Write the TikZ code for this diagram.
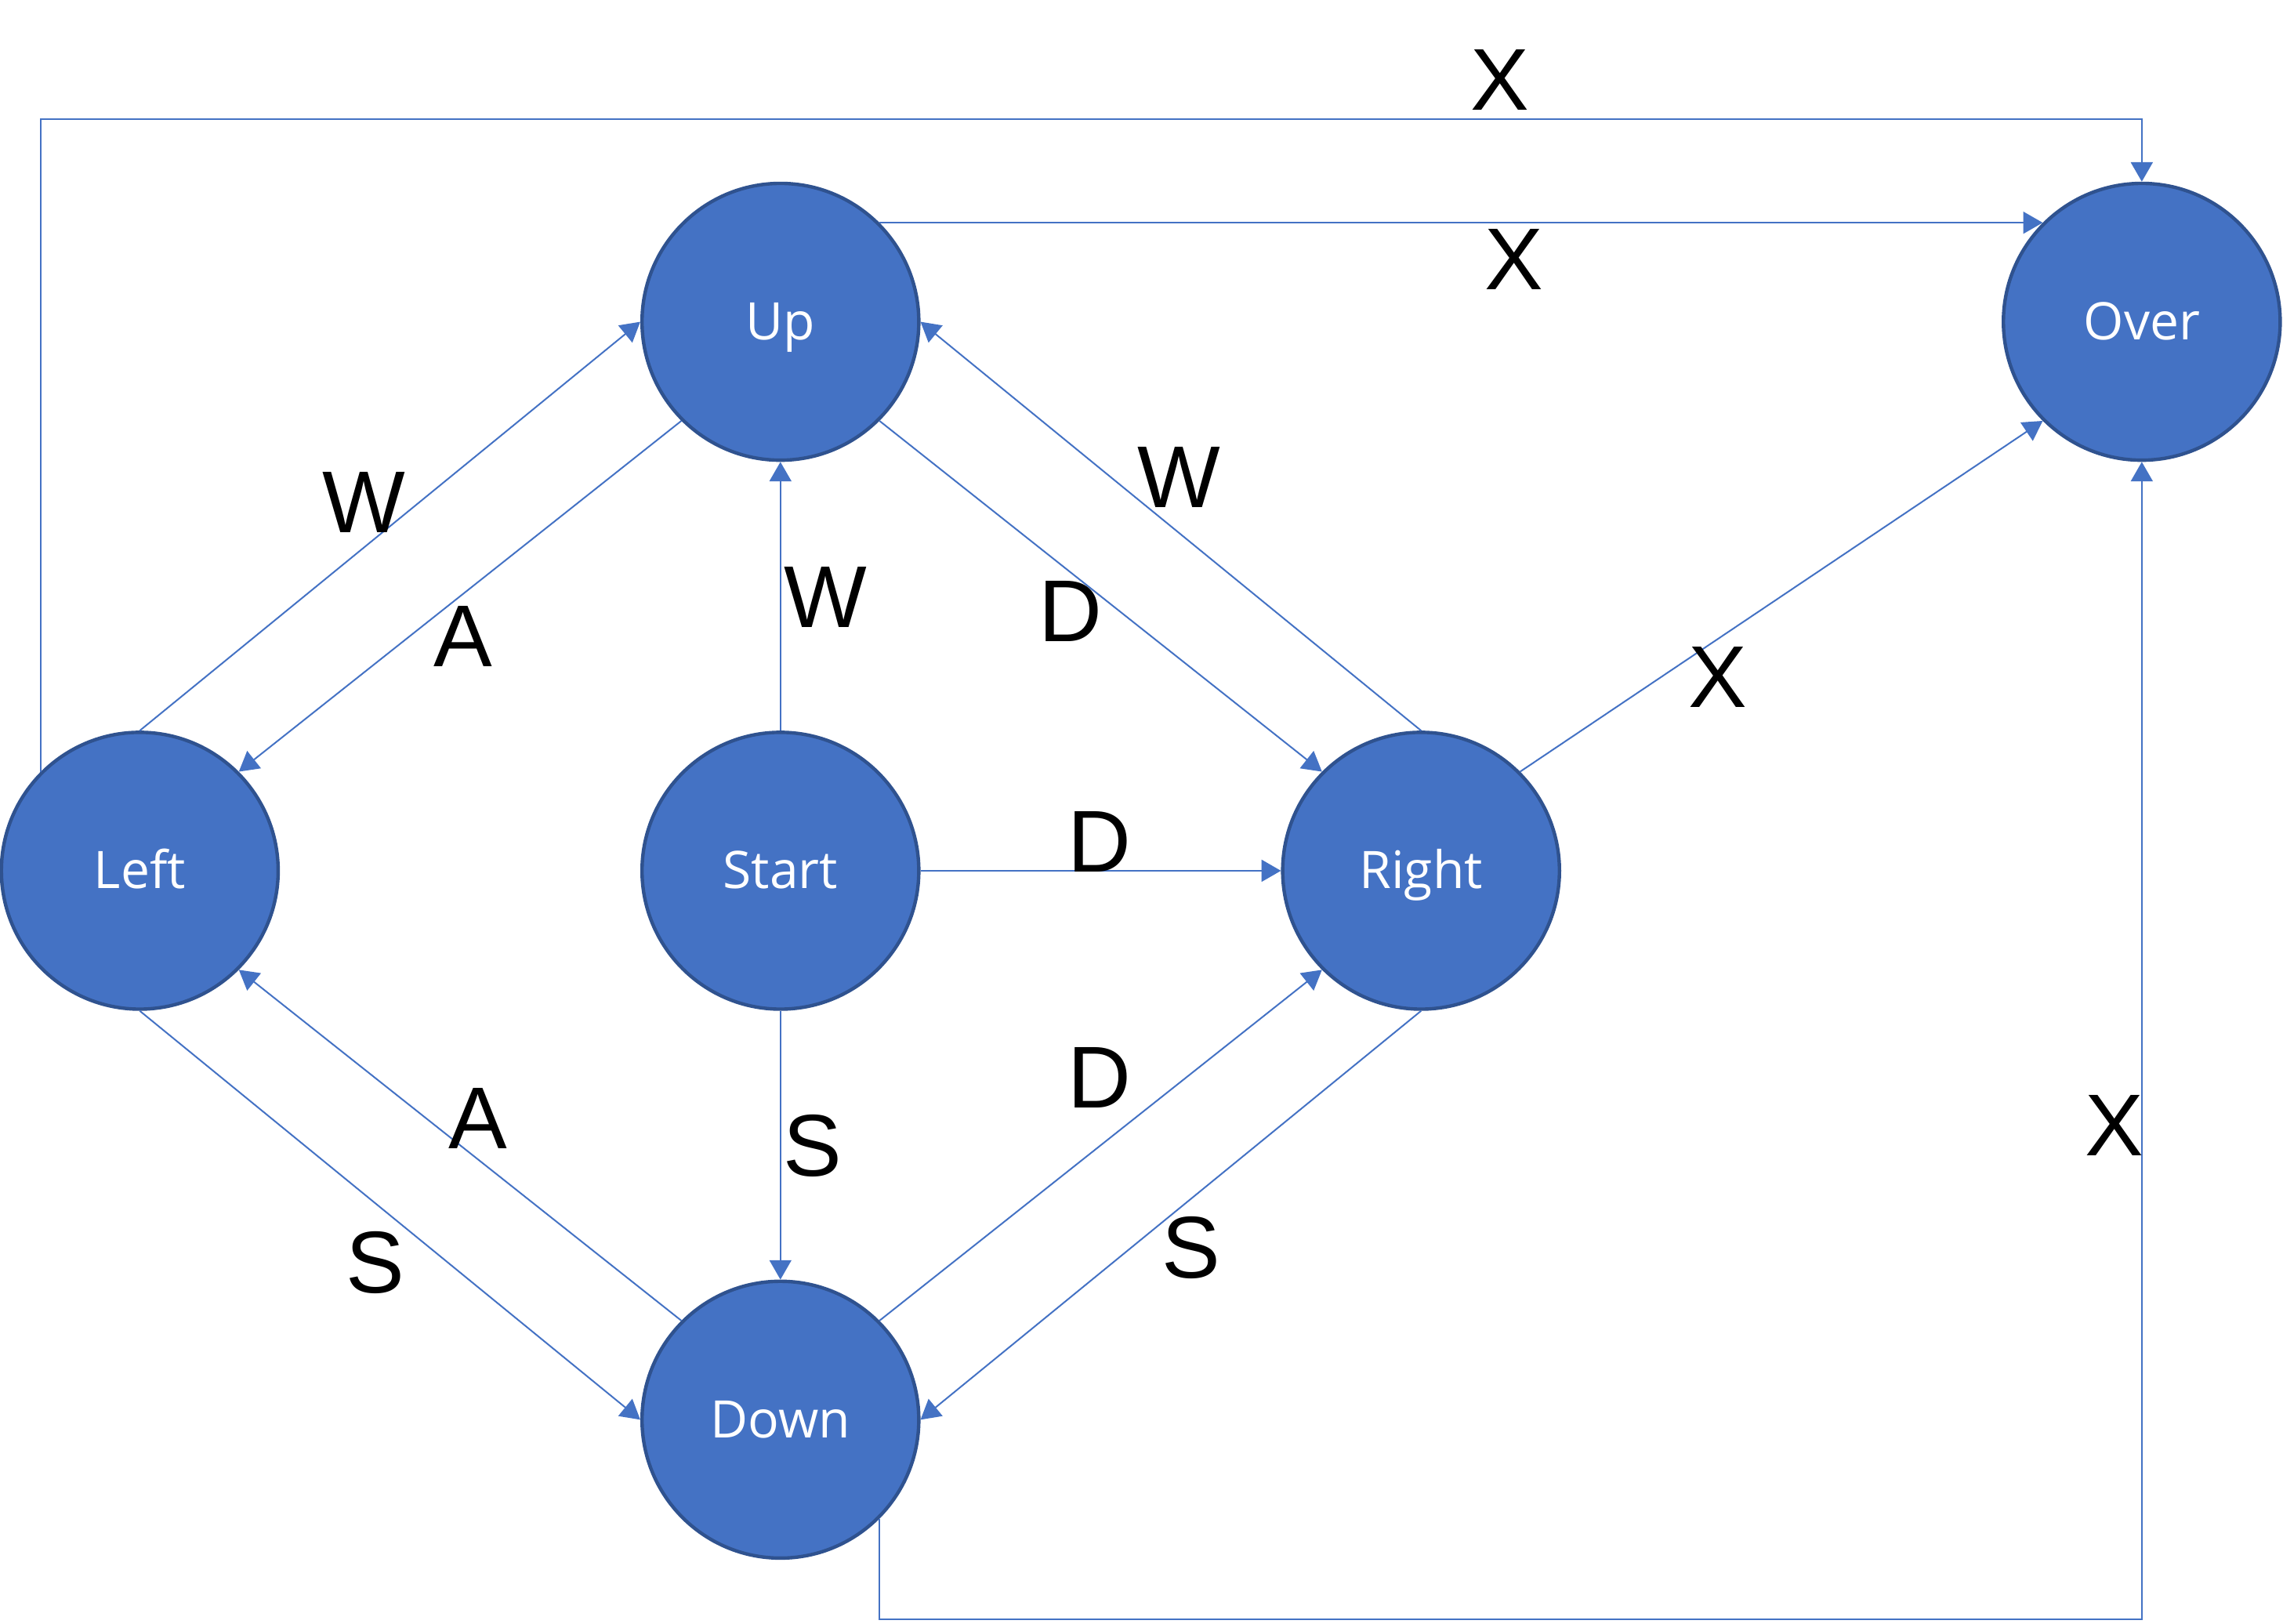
\documentclass[tikz,border=0pt]{standalone}
\usepackage{fontspec}
\setmainfont{Liberation Sans}
\newfontfamily\nodefont{Open Sans}
\usetikzlibrary{arrows.meta}
\definecolor{stfill}{HTML}{4472C4}
\definecolor{stborder}{HTML}{2F528F}
\definecolor{conn}{HTML}{4472C4}
\begin{document}
\begin{tikzpicture}[x=0.4645pt,y=-0.4645pt,
  state/.style={circle,fill=stfill,draw=stborder,line width=1.1pt,minimum size=88.3pt,inner sep=0pt,
    text=white,font=\nodefont\fontsize{16.5}{18}\selectfont,text height=11.4pt,text depth=0pt},
  trans/.style={draw=conn,line width=0.5pt,-{Triangle[length=6.2pt,width=7pt]}},
  lbl/.style={font=\fontsize{28}{30}\selectfont,text=black,inner sep=0pt}]
\useasboundingbox (0,0) rectangle (1568,1115);
\node[state] (Up) at (536,221) {Up};
\node[state] (Over) at (1471,221) {Over};
\node[state] (Left) at (96,598) {Left};
\node[state] (Start) at (536,598) {Start};
\node[state] (Right) at (976,598) {Right};
\node[state] (Down) at (536,975) {Down};
\coordinate (topY) at (0,82);
\coordinate (botY) at (0,1112);
% connectors
\draw[trans] (Left.135) -- (Left.135 |- topY) -| (Over.north);
\draw[trans] (Up.45) -- (Over.135);
\draw[trans] (Left.north) -- (Up.west);
\draw[trans] (Up.-135) -- (Left.45);
\draw[trans] (Start.north) -- (Up.south);
\draw[trans] (Up.-45) -- (Right.135);
\draw[trans] (Right.north) -- (Up.east);
\draw[trans] (Right.45) -- (Over.-135);
\draw[trans] (Start.east) -- (Right.west);
\draw[trans] (Start.south) -- (Down.north);
\draw[trans] (Left.south) -- (Down.west);
\draw[trans] (Down.135) -- (Left.-45);
\draw[trans] (Down.45) -- (Right.-135);
\draw[trans] (Right.south) -- (Down.east);
\draw[trans] (Down.-45) -- (Down.-45 |- botY) -| (Over.south);
% labels
\node[lbl] (lx1) at (1030,55) {X};
\node[lbl] (lx2) at (1040,178) {X};
\node[lbl] (lw1) at (250,345) {W};
\node[lbl] (la1) at (318,437) {A};
\node[lbl] (lw2) at (567,410) {W};
\node[lbl] (ld1) at (735,420) {D};
\node[lbl] (lw3) at (810,328) {W};
\node[lbl] (lx3) at (1180,465) {X};
\node[lbl] (ld2) at (755,578) {D};
\node[lbl] (ls1) at (558,787) {S};
\node[lbl] (ls2) at (258,867) {S};
\node[lbl] (la2) at (328,768) {A};
\node[lbl] (ld3) at (755,740) {D};
\node[lbl] (ls3) at (818,857) {S};
\node[lbl] (lx4) at (1452,773) {X};
\end{tikzpicture}
\end{document}
